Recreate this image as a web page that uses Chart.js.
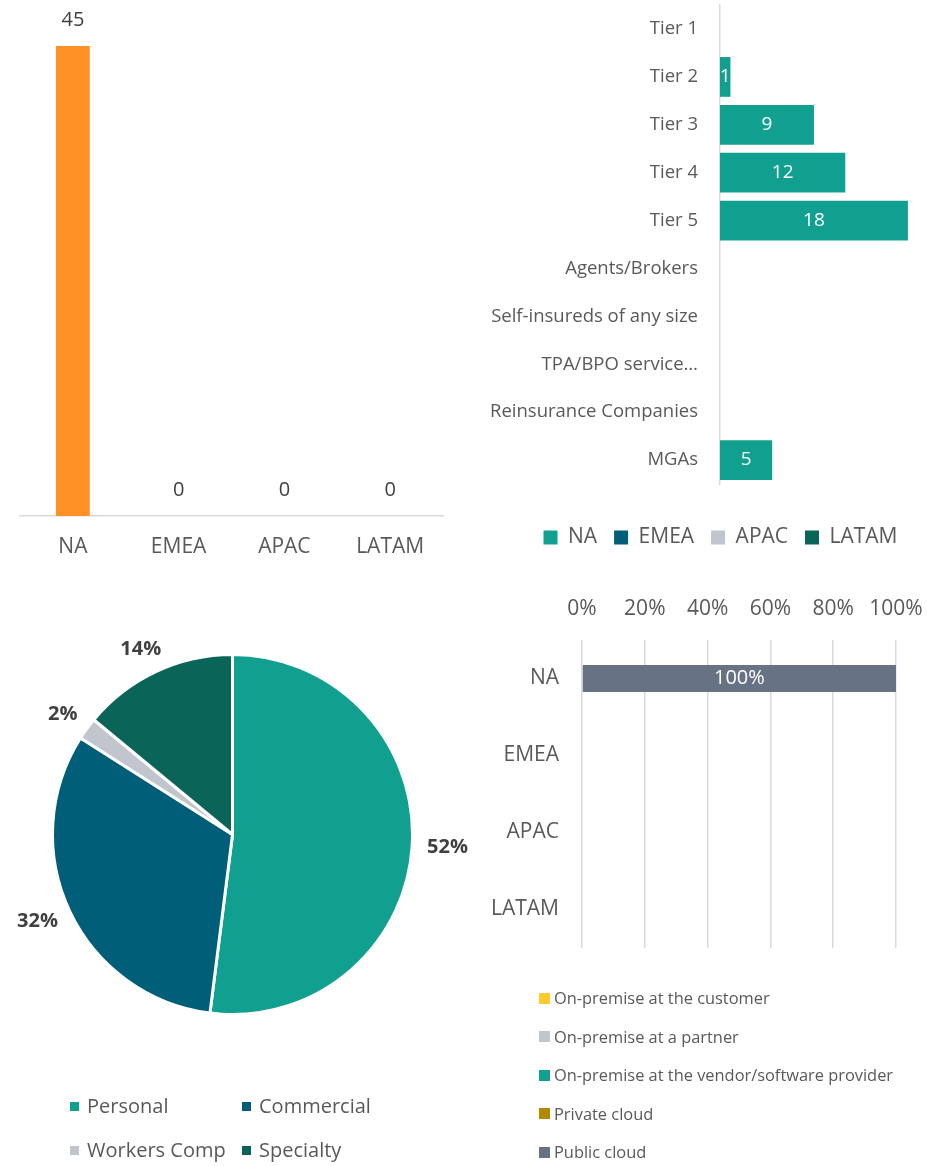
<!DOCTYPE html>
<html>
<head>
<meta charset="utf-8">
<script src="https://cdn.jsdelivr.net/npm/chart.js@4.4.1/dist/chart.umd.min.js"></script>
<style>
  html, body { margin:0; padding:0; background:#fff; }
  body { width:927px; height:1166px; position:relative; overflow:hidden; font-family:'Open Sans', sans-serif; }
  .box { position:absolute; }
  .lg-item { display:flex; align-items:center; white-space:nowrap; color:#595959; }
  .lg-sw { display:inline-block; flex:none; }
</style>
</head>
<body>
<div class="box" style="left:0;top:0;width:460px;height:570px"><canvas id="cRegion"></canvas></div>
<div class="box" style="left:460px;top:-28px;width:521px;height:608px"><canvas id="cTier"></canvas></div>
<div class="box" style="left:0;top:580px;width:480px;height:586px"><canvas id="cLob"></canvas></div>
<div class="box" style="left:460px;top:580px;width:496px;height:586px"><canvas id="cDeploy"></canvas></div>
<div id="lobLegend" class="box" style="left:70px;top:1092px;display:grid;grid-template-columns:172px 172px;row-gap:16px;font-size:20px;line-height:28px"></div>
<div id="deployLegend" class="box" style="left:539px;top:987px;display:flex;flex-direction:column;row-gap:16.5px;font-size:16.4px;line-height:22px"></div>

<script>
// ── data ─────────────────────────────────────────────
const regionLabels = ['NA', 'EMEA', 'APAC', 'LATAM'];
const regionCounts = [45, 0, 0, 0];

const tierLabels = ['Tier 1', 'Tier 2', 'Tier 3', 'Tier 4', 'Tier 5', 'Agents/Brokers',
  'Self-insureds of any size', 'TPA/BPO service…', 'Reinsurance Companies', 'MGAs'];
const tierNA    = [0, 1, 9, 12, 18, 0, 0, 0, 0, 5];
const tierEMEA  = [0, 0, 0, 0, 0, 0, 0, 0, 0, 0];
const tierAPAC  = [0, 0, 0, 0, 0, 0, 0, 0, 0, 0];
const tierLATAM = [0, 0, 0, 0, 0, 0, 0, 0, 0, 0];

const lobLabels = ['Personal', 'Commercial', 'Workers Comp', 'Specialty'];
const lobShares = [52, 32, 2, 14];

const deployLabels = ['On-premise at the customer', 'On-premise at a partner',
  'On-premise at the vendor/software provider', 'Private cloud', 'Public cloud'];
const deployCustomer = [0, 0, 0, 0];
const deployPartner  = [0, 0, 0, 0];
const deployVendor   = [0, 0, 0, 0];
const deployPrivate  = [0, 0, 0, 0];
const deployPublic   = [100, 0, 0, 0];

// ── colours ──────────────────────────────────────────
const ORANGE = '#FF9024';
const TEAL = '#11A08F', PETROL = '#005E78', SILVER = '#C1C5CD', PINE = '#0A6457';
const deployColors = ['#FFCA2A', '#C1C5CD', '#11A08F', '#B38900', '#687285'];
const lobColors = [TEAL, PETROL, SILVER, PINE];

Chart.defaults.font.family = "'Open Sans', sans-serif";
Chart.defaults.color = '#595959';
Chart.defaults.animation = false;
Chart.defaults.plugins.tooltip.enabled = false;

// value labels drawn straight on the canvas
const valueLabels = {
  id: 'valueLabels',
  afterDatasetsDraw(chart, args, o) {
    if (!o || !o.on) return;
    const ctx = chart.ctx;
    ctx.save();
    ctx.font = `${o.weight || 'normal'} ${o.size}px 'Open Sans', sans-serif`;
    ctx.fillStyle = o.color;
    ctx.textAlign = 'center';
    ctx.textBaseline = 'middle';
    chart.data.datasets.forEach((ds, di) => {
      chart.getDatasetMeta(di).data.forEach((el, i) => {
        const v = ds.data[i];
        if (!o.showZero && !v) return;
        const txt = o.fmt ? o.fmt(v) : String(v);
        let x, y;
        if (o.anchor === 'top') { x = el.x; y = el.y - o.offset; }
        else if (o.anchor === 'arc') {
          const mid = (el.startAngle + el.endAngle) / 2;
          const dx = Math.cos(mid), dy = Math.sin(mid);
          const w = ctx.measureText(txt).width;
          x = el.x + dx * (el.outerRadius + o.offset) + dx * w / 2;
          y = el.y + dy * (el.outerRadius + o.offset) + dy * o.size / 2;
        } else { const c = el.getCenterPoint(); x = c.x; y = c.y; }
        ctx.fillText(txt, x, y);
      });
    });
    ctx.restore();
  }
};
Chart.register(valueLabels);

// ── 1. region counts ─────────────────────────────────
new Chart(document.getElementById('cRegion'), {
  type: 'bar',
  data: { labels: regionLabels,
    datasets: [{ data: regionCounts, backgroundColor: ORANGE, categoryPercentage: 1, barPercentage: 0.32 }] },
  options: {
    responsive: true, maintainAspectRatio: false,
    layout: { padding: { left: 20, right: 17, top: 46, bottom: 0 } },
    plugins: { legend: { display: false },
      valueLabels: { on: true, anchor: 'top', offset: 26, size: 20, color: '#404040', showZero: true } },
    scales: {
      x: { grid: { display: false, drawTicks: false }, border: { color: '#D9D9D9', width: 1.5 },
           ticks: { font: { size: 21 }, padding: 18.4 }, afterFit: s => { s.height = 54; } },
      y: { display: false, min: 0, max: 45 }
    }
  }
});

// ── 2. tiers ─────────────────────────────────────────
const tierSets = [['NA', tierNA, TEAL], ['EMEA', tierEMEA, PETROL], ['APAC', tierAPAC, SILVER], ['LATAM', tierLATAM, PINE]];
new Chart(document.getElementById('cTier'), {
  type: 'bar',
  data: { labels: tierLabels,
    datasets: tierSets.map(([l, d, c]) => ({ label: l, data: d, backgroundColor: c, categoryPercentage: 1, barPercentage: 0.83 })) },
  options: {
    indexAxis: 'y', responsive: true, maintainAspectRatio: false,
    layout: { padding: { left: 0, right: 0, top: 0, bottom: 22 } },
    plugins: {
      legend: { position: 'bottom', labels: { boxWidth: 14, boxHeight: 14, padding: 17, font: { size: 21 }, color: '#595959' } },
      valueLabels: { on: true, anchor: 'center', size: 19, color: '#fff' }
    },
    scales: {
      x: { stacked: true, min: 0, max: 25, grid: { display: false }, border: { display: false },
           ticks: { display: false }, afterFit: s => { s.height = 26; } },
      y: { stacked: true, grid: { display: false, drawTicks: false }, border: { color: '#D9D9D9', width: 1.5 },
           ticks: { font: { size: 18.5 }, padding: 22 }, afterFit: s => { s.width = 260; } }
    }
  }
});

// ── 3. line of business ──────────────────────────────
new Chart(document.getElementById('cLob'), {
  type: 'pie',
  data: { labels: lobLabels,
    datasets: [{ data: lobShares, backgroundColor: lobColors, borderColor: '#fff', borderWidth: 3 }] },
  options: {
    responsive: true, maintainAspectRatio: false,
    layout: { padding: { left: 51, right: 66, top: 73, bottom: 150 } },
    plugins: { legend: { display: false },
      valueLabels: { on: true, anchor: 'arc', offset: 15, size: 20, weight: 'bold', color: '#404040', fmt: v => v + '%' } }
  }
});

// ── 4. deployment ────────────────────────────────────
const deploySets = [deployCustomer, deployPartner, deployVendor, deployPrivate, deployPublic];
new Chart(document.getElementById('cDeploy'), {
  type: 'bar',
  data: { labels: regionLabels,
    datasets: deploySets.map((d, i) => ({ label: deployLabels[i], data: d, backgroundColor: deployColors[i],
      categoryPercentage: 1, barPercentage: 0.35 })) },
  options: {
    indexAxis: 'y', responsive: true, maintainAspectRatio: false,
    layout: { padding: { left: 0, right: 60, top: 0, bottom: 218 } },
    plugins: { legend: { display: false },
      valueLabels: { on: true, anchor: 'center', size: 20, color: '#fff', fmt: v => v + '%' } },
    scales: {
      x: { position: 'top', stacked: true, min: 0, max: 100,
           grid: { color: '#D9D9D9', lineWidth: 1.5, drawTicks: false }, border: { display: false },
           ticks: { stepSize: 20, font: { size: 21 }, padding: 18.4, callback: v => v + '%' },
           afterFit: s => { s.height = 60; } },
      y: { stacked: true, grid: { display: false, drawTicks: false }, border: { display: false },
           ticks: { font: { size: 21 }, padding: 23 }, afterFit: s => { s.width = 122; } }
    }
  }
});

// ── html legends ─────────────────────────────────────
function fillLegend(id, labels, colors, sw, gap) {
  document.getElementById(id).innerHTML = labels.map((l, i) =>
    `<div class="lg-item"><span class="lg-sw" style="width:${sw}px;height:${sw}px;background:${colors[i]};margin-right:${gap}px"></span>${l}</div>`
  ).join('');
}
fillLegend('lobLegend', lobLabels, lobColors, 9, 8);
fillLegend('deployLegend', deployLabels, deployColors, 11, 4);
</script>
</body>
</html>
